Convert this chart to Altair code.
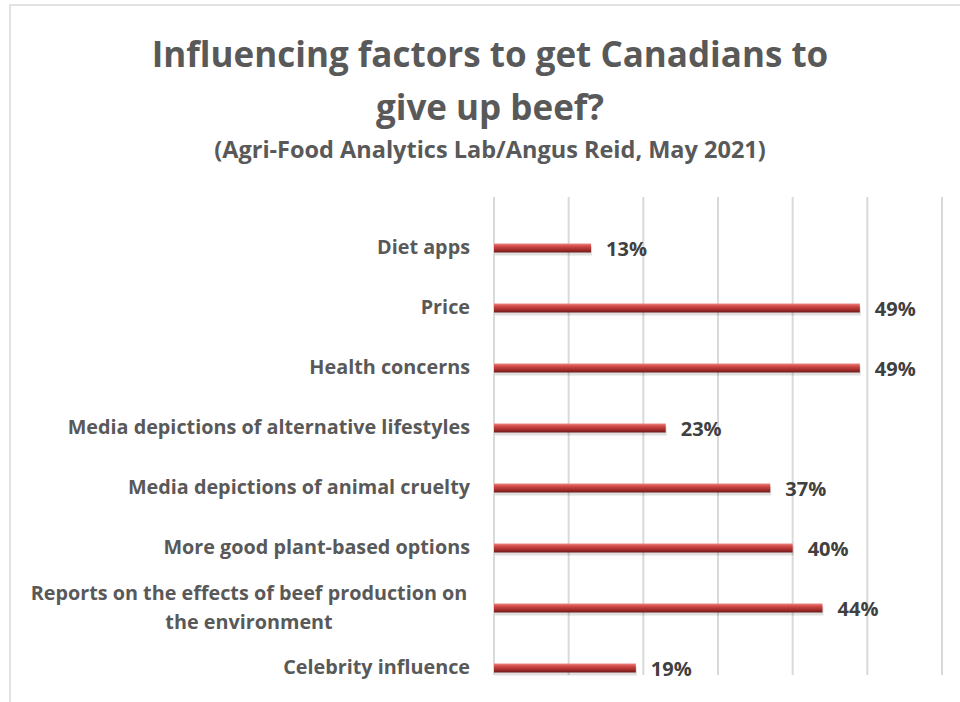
import altair as alt
import pandas as pd

categories = [
    "Diet apps",
    "Price",
    "Health concerns",
    "Media depictions of alternative lifestyles",
    "Media depictions of animal cruelty",
    "More good plant-based options",
    "Reports on the effects of beef production on the environment",
    "Celebrity influence",
]
values = [13, 49, 49, 23, 37, 40, 44, 19]
grid_ticks = [0, 10, 20, 30, 40, 50, 60]

title_line1 = "Influencing factors to get Canadians to"
title_line2 = "give up beef?"
subtitle = "(Agri-Food Analytics Lab/Angus Reid, May 2021)"

wrap_label = "Reports on the effects of beef production on the environment"
wrap_lines = ["Reports on the effects of beef production on", "the environment"]

FONT = "Open Sans"
GREY = "#595959"

df = pd.DataFrame({"cat": categories, "val": values})
df["lab"] = df["val"].astype(str) + "%"
df_single = df[df["cat"] != wrap_label]
df_wrap = pd.DataFrame({"cat": [wrap_label], "txt": ["\n".join(wrap_lines)]})
grid_df = pd.DataFrame({"g": grid_ticks})

x_scale = alt.Scale(domain=[0, 60], nice=False, zero=True)
y_scale = alt.Scale(domain=categories, paddingInner=0, paddingOuter=0)

X = alt.X("val:Q", scale=x_scale, axis=None)
Y = alt.Y("cat:N", scale=y_scale, sort=categories, axis=None)

border = alt.Chart(pd.DataFrame({"a": [0]})).mark_rect(
    fill=None, stroke="#D9D9D9", strokeWidth=1.5, clip=False
).encode(x=alt.value(-484), x2=alt.value(480), y=alt.value(-213), y2=alt.value(500))

grid = alt.Chart(grid_df).mark_rule(color="#D9D9D9", strokeWidth=2).encode(
    x=alt.X("g:Q", scale=x_scale, axis=None),
    y=alt.value(-21),
    y2=alt.value(457),
)

shadow = alt.Chart(df).mark_bar(
    size=9, color="#000000", opacity=0.12, yOffset=3, xOffset=1
).encode(x=X, y=Y)

gradient = alt.Gradient(
    gradient="linear",
    stops=[
        alt.GradientStop(color="#EE8583", offset=0),
        alt.GradientStop(color="#D24B48", offset=0.3),
        alt.GradientStop(color="#A8312F", offset=0.65),
        alt.GradientStop(color="#6E1A19", offset=1),
    ],
    x1=0, x2=0, y1=0, y2=1,
)

bars = alt.Chart(df).mark_bar(size=9, color=gradient).encode(x=X, y=Y)

value_labels = alt.Chart(df).mark_text(
    align="left", baseline="middle", dx=15, dy=2, font=FONT, fontWeight="bold",
    fontSize=20, color="#404040"
).encode(x=X, y=Y, text="lab:N")

cat_labels = alt.Chart(df_single).mark_text(
    align="right", baseline="middle", font=FONT, fontWeight="bold", fontSize=19.8,
    color=GREY
).encode(x=alt.value(-24), y=Y, text="cat:N")

wrap_text = alt.Chart(df_wrap).mark_text(
    align="center", baseline="middle", font=FONT, fontWeight="bold", fontSize=19.8,
    color=GREY, lineBreak="\n", lineHeight=29, dy=-14
).encode(x=alt.value(-245), y=Y, text="txt:N")

def title_text(txt, y, size):
    return alt.Chart(pd.DataFrame({"t": [txt]})).mark_text(
        align="center", baseline="middle", font=FONT, fontWeight="bold",
        fontSize=size, color=GREY
    ).encode(x=alt.value(-4), y=alt.value(y), text="t:N")

t1 = title_text(title_line1, -162, 35)
t2 = title_text(title_line2, -109, 35)
t3 = title_text(subtitle, -67, 23.5)

chart = alt.layer(
    border, grid, shadow, bars, value_labels, cat_labels, wrap_text, t1, t2, t3
).properties(
    width=448, height=480,
    autosize=alt.AutoSizeParams(type="none"),
    padding={"left": 494, "top": 218, "right": 18, "bottom": 4},
    background="white",
).configure_view(strokeWidth=0)

chart.save("out.html", embed_options={"renderer": "svg", "actions": False})
